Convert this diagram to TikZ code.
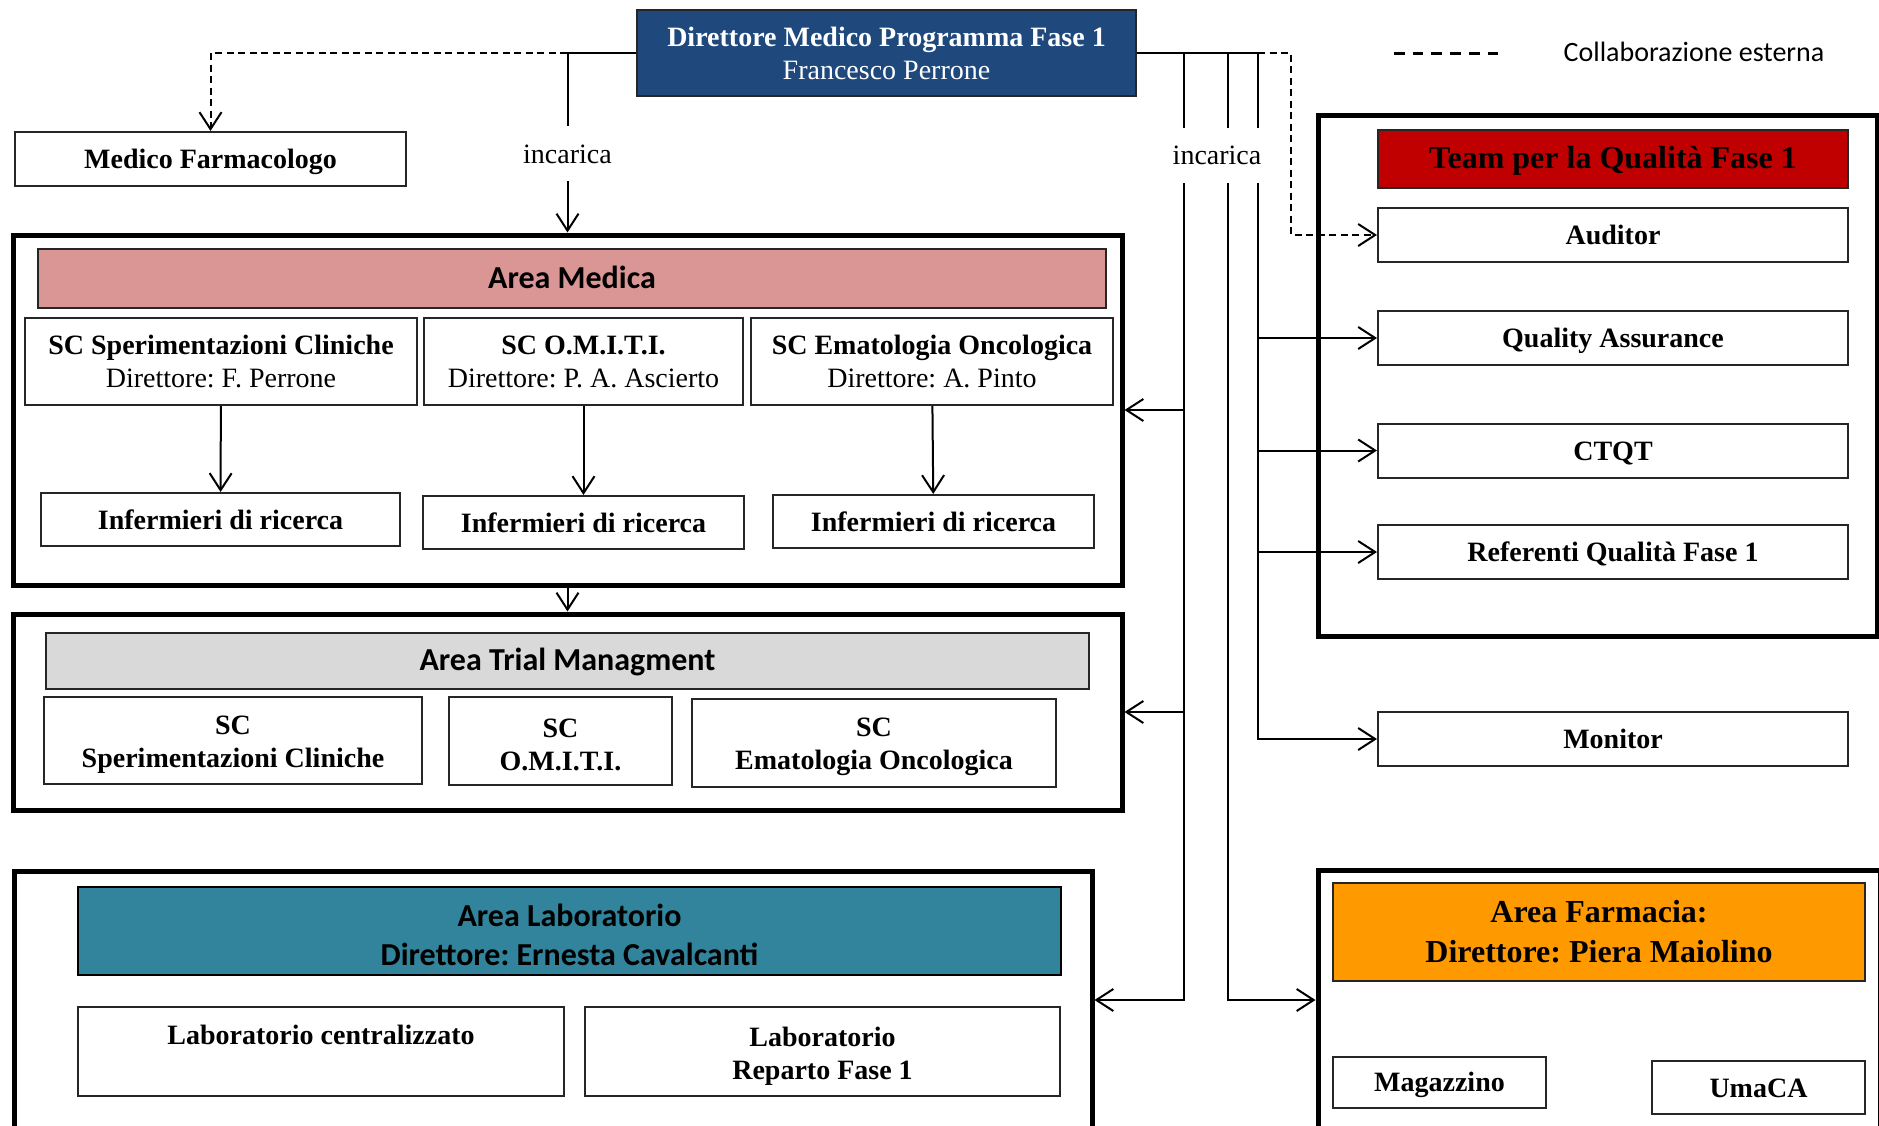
\documentclass[tikz,border=0pt]{standalone}
\usepackage{fontspec}
\setmainfont{Liberation Serif}
\newfontfamily\calibri{Carlito}
\usetikzlibrary{arrows.meta}
\definecolor{dirblue}{RGB}{31,73,125}
\definecolor{medpink}{RGB}{217,150,148}
\definecolor{trialgray}{RGB}{217,217,217}
\definecolor{labteal}{RGB}{49,132,155}
\definecolor{teamred}{RGB}{192,0,0}
\definecolor{farmorange}{RGB}{255,153,0}
\newcommand{\boxstrut}{\rule[-6pt]{0pt}{31pt}}
\newcommand{\lift}[1]{\rule{0pt}{#1}}
\frenchspacing
\begin{document}
\begin{tikzpicture}[x=1pt, y=-1pt, >={Straight Barb[length=17pt,width=22pt]},
    every node/.style={inner sep=0pt, align=center, font=\fontsize{28}{33}\selectfont},
    oneline/.style={execute at begin node=\boxstrut, execute at end node=\boxstrut},
    unit/.style={draw=black!85, line width=2pt, fill=white, minimum height=54pt},
    area/.style={draw, line width=5pt},
    head/.style={draw=black!85, line width=2pt, font=\calibri\bfseries\fontsize{32}{39}\selectfont},
    conn/.style={line width=2pt},
    ext/.style={line width=2pt, dash pattern=on 7pt off 4.5pt},
    legdash/.style={line width=3pt, dash pattern=on 10.7pt off 8pt},
    lbl/.style={oneline, fill=white, minimum height=55pt, inner xsep=1pt}]
    \useasboundingbox (0,0) rectangle (1879,1125);
    \clip (0,0) rectangle (1879,1125);

    \node[unit,fill=dirblue,text=white,minimum width=499pt,minimum height=86pt] (dir) at (886.5,53) {\textbf{Direttore Medico Programma Fase 1}\\Francesco Perrone};
    \node[unit,oneline,minimum width=391pt] (mf) at (210.5,159) {\textbf{Medico Farmacologo}};

    \coordinate (l1) at (1394,53); \coordinate (l2) at (1498,53);
    \draw[legdash] (l1) -- (l2);
    \node[oneline,font=\calibri\fontsize{28}{33}\selectfont] (leg) at (1694,52) {Collaborazione esterna};

    \node[area,minimum width=1109pt,minimum height=350pt] (am) at (567.5,410) {};
    \node[head,oneline,fill=medpink,minimum width=1068pt,minimum height=59pt] (amh) at (572,278.5) {Area Medica};
    \node[unit,minimum width=392pt,minimum height=87pt] (sc1) at (221,361.5) {\textbf{SC Sperimentazioni Cliniche}\\Direttore: F. Perrone};
    \node[unit,minimum width=319pt,minimum height=87pt] (sc2) at (583.5,361.5) {\textbf{SC O.M.I.T.I.}\\Direttore: P. A. Ascierto};
    \node[unit,minimum width=362pt,minimum height=87pt] (sc3) at (932,361.5) {\textbf{SC Ematologia Oncologica}\\Direttore: A. Pinto};
    \node[unit,oneline,minimum width=359pt,minimum height=53pt] (inf1) at (220.5,519.5) {\textbf{Infermieri di ricerca}};
    \node[unit,oneline,minimum width=321pt,minimum height=53pt] (inf2) at (583.5,522.5) {\textbf{Infermieri di ricerca}};
    \node[unit,oneline,minimum width=321pt,minimum height=53pt] (inf3) at (933.5,521.5) {\textbf{Infermieri di ricerca}};

    \node[area,minimum width=1109pt,minimum height=196pt] (at) at (567.5,712) {};
    \node[head,oneline,fill=trialgray,minimum width=1043pt,minimum height=56pt] (ath) at (567.5,661) {Area Trial Managment};
    \node[unit,minimum width=378pt,minimum height=87pt] (ts1) at (233,740.5) {\lift{26pt}\textbf{SC}\\\textbf{Sperimentazioni Cliniche}};
    \node[unit,minimum width=223pt,minimum height=88pt] (ts2) at (560.5,741) {\lift{26pt}\textbf{SC}\\\textbf{O.M.I.T.I.}};
    \node[unit,minimum width=364pt,minimum height=88pt] (ts3) at (874,743) {\lift{26pt}\textbf{SC}\\\textbf{Ematologia Oncologica}};

    \node[area,minimum width=1078pt,minimum height=258pt] (lab) at (553,1000) {};
    \node[head,draw=black,line width=2.5pt,fill=labteal,minimum width=983pt,minimum height=88pt] (labh) at (569.5,931) {\lift{30pt}Area Laboratorio\\Direttore: Ernesta Cavalcanti};
    \node[unit,minimum width=486pt,minimum height=89pt] (lb1) at (321,1051.5) {\lift{29pt}\textbf{Laboratorio centralizzato}\\\strut};
    \node[unit,minimum width=475pt,minimum height=89pt] (lb2) at (822.5,1051.5) {\lift{29pt}\textbf{Laboratorio}\\\textbf{Reparto Fase 1}};

    \node[area,minimum width=559pt,minimum height=521pt] (team) at (1597.5,375.5) {};
    \node[head,oneline,fill=teamred,minimum width=470pt,minimum height=58pt,font=\bfseries\fontsize{32}{39}\selectfont] (teamh) at (1613,159) {Team per la Qualità Fase 1};
    \node[unit,oneline,minimum width=470pt] (aud) at (1613,235) {\textbf{Auditor}};
    \node[unit,oneline,minimum width=470pt] (qa) at (1613,338) {\textbf{Quality Assurance}};
    \node[unit,oneline,minimum width=470pt] (ctqt) at (1613,450.5) {\textbf{CTQT}};
    \node[unit,oneline,minimum width=470pt] (ref) at (1613,552) {\textbf{Referenti Qualità Fase 1}};
    \node[unit,oneline,minimum width=470pt] (mon) at (1613,739) {\textbf{Monitor}};

    \node[area,minimum width=562pt,minimum height=260pt] (farm) at (1599,1000) {};
    \node[head,fill=farmorange,minimum width=532pt,minimum height=98pt,font=\bfseries\fontsize{32}{40}\selectfont] (farmh) at (1599,932) {Area Farmacia:\\Direttore: Piera Maiolino};
    \node[unit,oneline,minimum width=213pt,minimum height=51pt] (mag) at (1439.5,1082.5) {\textbf{Magazzino}};
    \node[unit,oneline,minimum width=213pt,minimum height=53pt] (uma) at (1758.5,1087.5) {\textbf{UmaCA}};

    \coordinate (b1) at (1184,53); \coordinate (b2) at (1228,53);
    \coordinate (b3) at (1258,53); \coordinate (b4) at (1291,53);

    \draw[ext,->] (dir.west) -| (mf.north);
    \draw[conn,->] (dir.west) -| (am.north) node[lbl,pos=0.78] (inc1) {incarica};
    \draw[conn,->] (sc1) -- (inf1); \draw[conn,->] (sc2) -- (inf2); \draw[conn,->] (sc3) -- (inf3);
    \draw[conn,->] (am.south) -- (at.north);

    \draw[conn] (dir.east) -- (b3);
    \draw[ext,->] (b3) -- (b4) |- (aud.west);
    \draw[conn,->] (b1) |- (am.east); \draw[conn,->] (b1) |- (at.east); \draw[conn,->] (b1) |- (lab.east);
    \draw[conn,->] (b2) |- (farm.west);
    \draw[conn,->] (b3) |- (qa.west); \draw[conn,->] (b3) |- (ctqt.west);
    \draw[conn,->] (b3) |- (ref.west); \draw[conn,->] (b3) |- (mon.west);
    \node[lbl] (inc2) at (1217,155) {incarica};
\end{tikzpicture}
\end{document}
